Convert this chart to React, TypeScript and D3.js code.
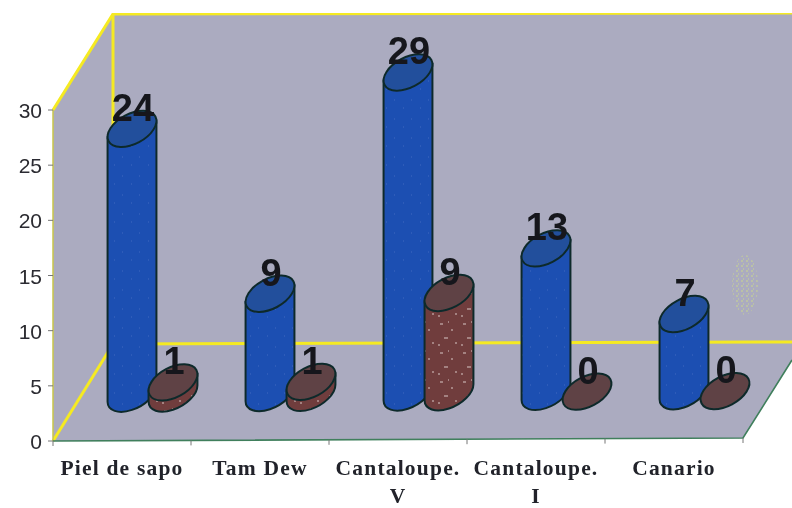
import React from "react";
import * as d3 from "d3";

const categories = [["Piel de sapo"], ["Tam Dew"], ["Cantaloupe.", "V"], ["Cantaloupe.", "I"], ["Canario"]];
const blueValues = [24, 9, 29, 13, 7];
const maroonValues = [1, 1, 9, 0, 0];
const yTicks = [0, 5, 10, 15, 20, 25, 30];

const W = 792, H = 508;
const x0 = 53, x1 = 743, y0 = 441, yTop = 110;
const depthX = 60, depthY = -97;
const tilt = -3 / 690;

const y = d3.scaleLinear().domain([0, 30]).range([y0, yTop]);
const xBand = d3.scaleBand<number>().domain(d3.range(categories.length)).range([x0, x1]);
const inner = d3.scalePoint<string>().domain(["blue", "maroon"]).range([79, 120]);

const rx = 26.5, ry = 15, rot = -28, baseRaise = 47;
const rad = (rot * Math.PI) / 180;
const halfW = Math.hypot(rx * Math.cos(rad), ry * Math.sin(rad));
const slope = ((rx * rx - ry * ry) * Math.abs(Math.sin(rad) * Math.cos(rad))) / halfW;
const unit = y(0) - y(1);

function Cylinder({ cx, value, body, top, label }: { cx: number; value: number; body: string; top: string; label: number }) {
  const baseY = y0 + (cx - x0) * tilt - baseRaise;
  const topY = baseY - value * unit;
  const d = d3.path();
  d.moveTo(cx - halfW, topY + slope);
  d.lineTo(cx - halfW, baseY + slope);
  const arc = `A${rx} ${ry} ${rot} 0 0 ${cx + halfW} ${baseY - slope}`;
  const path = `${d.toString()}${arc}L${cx + halfW} ${topY - slope}Z`;
  return (
    <g stroke="#0f2a2c" strokeWidth={2}>
      {value > 0 && <path d={path} fill={body} />}
      <ellipse cx={cx} cy={topY} rx={rx} ry={ry} transform={`rotate(${rot} ${cx} ${topY})`} fill={top} />
      <text x={cx + 1} y={topY - 8} textAnchor="middle" stroke="none" fill="#14181c" fontFamily="'Liberation Sans', Arial, sans-serif" fontWeight={700} fontSize={38}>{label}</text>
    </g>
  );
}

export default function App() {
  const floorBackY = y0 + depthY;
  return (
    <svg width={W} height={H} viewBox={`0 0 ${W} ${H}`} style={{ position: "absolute", left: 0, top: 0, background: "#fff" }}>
      <defs>
        <filter id="scan" x="0" y="0" width="100%" height="100%"><feGaussianBlur stdDeviation="0.45" /></filter>
        <pattern id="speck" width="23" height="29" patternUnits="userSpaceOnUse">
          <rect width="23" height="29" fill="#703c3e" />
          <path d="M3 5h3M14 11h2M7 19h4M18 24h2M1 26h2M11 3h1" stroke="#d8c8c4" strokeWidth="1" />
        </pattern>
        <pattern id="blueSpeck" width="17" height="19" patternUnits="userSpaceOnUse">
          <rect width="17" height="19" fill="#1f4fb2" />
          <path d="M3 5h1M12 13h1" stroke="#3f68c0" strokeWidth="1" />
        </pattern>
        <pattern id="smudge" width="5" height="5" patternUnits="userSpaceOnUse">
          <path d="M1 1h2M3 4h1" stroke="#bfc9a0" strokeWidth="1.6" />
        </pattern>
      </defs>
      <g filter="url(#scan)">
        {/* walls and floor */}
        <polygon points={`${x0 + depthX},14 ${W},14 ${W},${floorBackY} ${x0 + depthX},${floorBackY}`} fill="#ababc0" />
        <polygon points={`${x0},${yTop} ${x0 + depthX},14 ${x0 + depthX},${floorBackY} ${x0},${y0}`} fill="#ababc0" />
        <polygon points={`${x0},${y0} ${x0 + depthX},${floorBackY} ${W},${floorBackY - 2} ${W},360 ${x1},${y0 - 3}`} fill="#ababc0" />
        <ellipse cx={745} cy={285} rx={13} ry={30} fill="url(#smudge)" />
        <g stroke="#f5ea20" strokeWidth={3} fill="none">
          <path d={`M${x0},${yTop}L${x0 + depthX},14L${W},13`} />
          <path d={`M${x0 + depthX},14V${floorBackY}`} />
          <path d={`M${x0},${y0}L${x0 + depthX},${floorBackY}L${W},${floorBackY - 2}`} />
        </g>
        <path d={`M${x0},${yTop}V${y0}`} stroke="#c9c64a" strokeWidth={1.5} />
        <path d={`M${x0},${y0}L${x1},${y0 - 3}L${W},360`} stroke="#3f7f5c" strokeWidth={1.6} fill="none" />
        {/* ticks */}
        {yTicks.map((t) => (
          <g key={t}>
            <line x1={x0 - 5} x2={x0} y1={y(t)} y2={y(t)} stroke="#777" strokeWidth={1} />
            <text x={42} y={y(t) + 8} textAnchor="end" fontFamily="'Liberation Sans', Arial, sans-serif" fontSize={21} fill="#2b2b30">{t}</text>
          </g>
        ))}
        {d3.range(categories.length + 1).map((i) => {
          const tx = x0 + i * xBand.step();
          const ty = y0 + (tx - x0) * tilt;
          return <line key={i} x1={tx} x2={tx} y1={ty} y2={ty + 5} stroke="#777" strokeWidth={1} />;
        })}
        {/* cylinders */}
        {categories.map((_, i) => {
          const left = xBand(i)!;
          return (
            <g key={i}>
              <Cylinder cx={left + inner("blue")!} value={blueValues[i]} body="url(#blueSpeck)" top="#24509c" label={blueValues[i]} />
              <Cylinder cx={left + inner("maroon")!} value={maroonValues[i]} body="url(#speck)" top="#5f4244" label={maroonValues[i]} />
            </g>
          );
        })}
        {/* category labels */}
        {categories.map((lines, i) => (
          <text key={i} textAnchor="middle" fontFamily="'Liberation Serif', 'Times New Roman', serif" fontWeight={700} fontSize={21.5} letterSpacing={1.2} fill="#20242a">
            {lines.map((line, j) => (
              <tspan key={j} x={xBand(i)! + xBand.bandwidth() / 2} y={475 + j * 28}>{line}</tspan>
            ))}
          </text>
        ))}
      </g>
    </svg>
  );
}
